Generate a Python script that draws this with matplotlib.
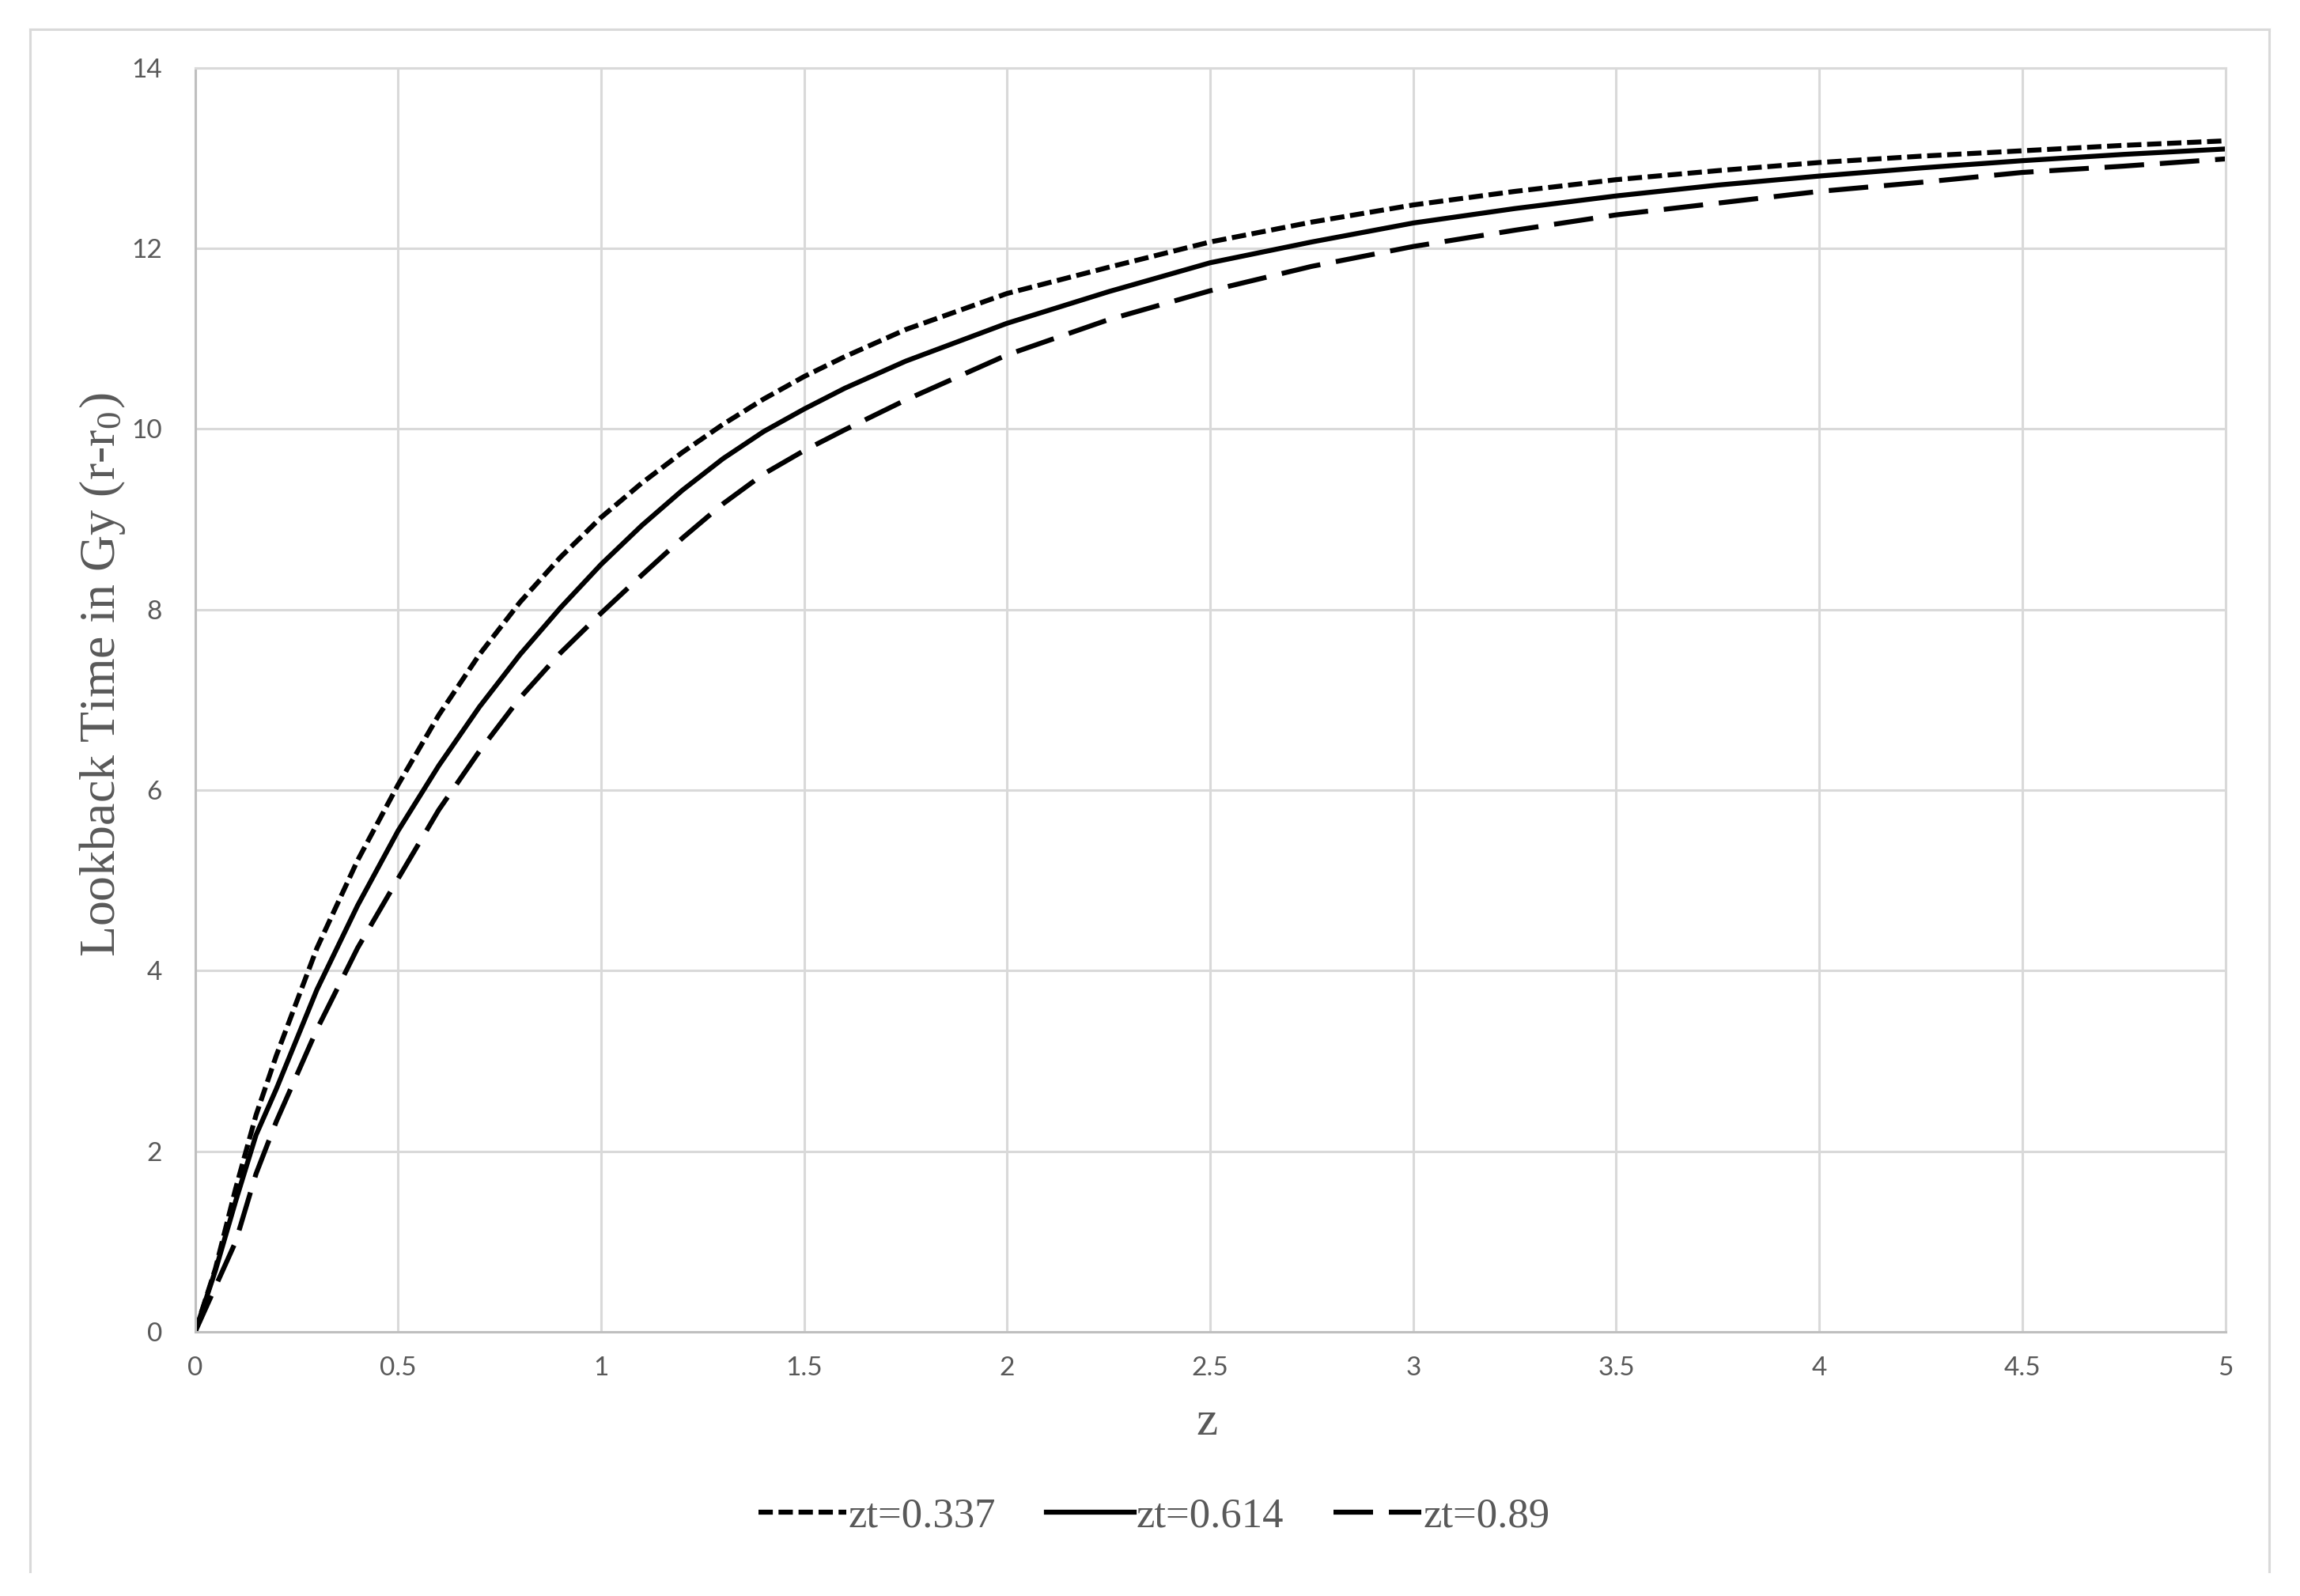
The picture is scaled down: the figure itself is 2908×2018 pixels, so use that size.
import matplotlib
matplotlib.use('Agg')
import matplotlib.pyplot as plt
from matplotlib.lines import Line2D

# redshift grid
z = [0, 0.05, 0.1, 0.15, 0.2, 0.3, 0.4, 0.5, 0.6, 0.7, 0.8, 0.9, 1.0,
     1.1, 1.2, 1.3, 1.4, 1.5, 1.6, 1.75, 2.0, 2.25, 2.5, 2.75, 3.0,
     3.25, 3.5, 3.75, 4.0, 4.25, 4.5, 4.75, 5.0]

# lookback time in Gy for each zt
t_0337 = [0, 0.7, 1.59, 2.4, 3.06, 4.25, 5.22, 6.06, 6.83, 7.5, 8.08, 8.58, 9.02,
          9.4, 9.74, 10.05, 10.33, 10.58, 10.8, 11.1, 11.5, 11.79, 12.07, 12.29, 12.48,
          12.63, 12.76, 12.86, 12.95, 13.02, 13.08, 13.14, 13.19]
t_0614 = [0, 0.68, 1.45, 2.18, 2.69, 3.79, 4.72, 5.55, 6.27, 6.92, 7.5, 8.02, 8.5,
          8.93, 9.32, 9.67, 9.97, 10.22, 10.45, 10.75, 11.17, 11.52, 11.84, 12.07, 12.28,
          12.44, 12.58, 12.7, 12.8, 12.89, 12.97, 13.04, 13.1]
t_089 = [0, 0.5, 1.0, 1.75, 2.33, 3.35, 4.25, 5.02, 5.78, 6.43, 7.02, 7.52, 7.96,
         8.38, 8.79, 9.17, 9.5, 9.76, 9.99, 10.32, 10.82, 11.21, 11.53, 11.8, 12.02,
         12.2, 12.37, 12.5, 12.63, 12.73, 12.84, 12.91, 12.99]

labels = ['zt=0.337', 'zt=0.614', 'zt=0.89']
xticks = [0, 0.5, 1, 1.5, 2, 2.5, 3, 3.5, 4, 4.5, 5]
xticklabels = ['0', '0.5', '1', '1.5', '2', '2.5', '3', '3.5', '4', '4.5', '5']
yticks = [0, 2, 4, 6, 8, 10, 12, 14]

plt.rcParams['mathtext.fontset'] = 'stix'
grid_c = '#d9d9d9'
tick_c = '#595959'
lw = 4.5

fig = plt.figure(figsize=(29.08, 20.18), dpi=100)
ax = fig.add_axes([246.7 / 2908, 1 - 1684 / 2018,
                   (2813.5 - 246.7) / 2908, (1684 - 85.6) / 2018])

ax.plot(z, t_0337, color='black', lw=lw, dashes=(2.9, 1.15), label=labels[0])
ax.plot(z, t_0614, color='black', lw=lw, label=labels[1])
ax.plot(z, t_089, color='black', lw=lw, dashes=(8, 3.2), label=labels[2])

ax.set_xlim(0, 5)
ax.set_ylim(0, 14)
ax.set_xticks(xticks)
ax.set_xticklabels(xticklabels)
ax.set_yticks(yticks)
ax.grid(True, color=grid_c, lw=2.2)
ax.set_axisbelow(True)
for s in ax.spines.values():
    s.set_color(grid_c)
    s.set_linewidth(2.2)
ax.spines['left'].set_color('#bfbfbf')
ax.spines['bottom'].set_color('#bfbfbf')
ax.tick_params(length=0, labelsize=24, labelcolor=tick_c, pad=22)
for t in ax.get_xticklabels() + ax.get_yticklabels():
    t.set_family('Lato')
ax.tick_params(axis='y', pad=30)

fig.text(130 / 2908, 1 - 853 / 2018, r'Lookback Time in Gy (r-r$_\mathregular{0}$)',
         rotation=90, ha='center', va='center', fontsize=46,
         family='Liberation Serif', color=tick_c)
fig.text(1526 / 2908, 1 - 1799 / 2018, 'z', ha='center', va='center',
         fontsize=44, family='Liberation Serif', color=tick_c)

handles = [Line2D([], [], color='black', lw=lw, dashes=(2.9, 1.15)),
           Line2D([], [], color='black', lw=lw),
           Line2D([], [], color='black', lw=lw, dashes=(8, 3.2))]
leg = fig.legend(handles, labels, loc='center', ncol=3,
                 bbox_to_anchor=(787 / 1568, 1 - 1034 / 1088), frameon=False,
                 prop={'family': 'Liberation Serif', 'size': 38},
                 handlelength=2.1, handletextpad=0.05, columnspacing=1.2)
for t in leg.get_texts():
    t.set_color(tick_c)

# outer chart border (left, top, right)
for xs, ys in [([38, 38], [37, 1987]), ([38, 2869], [37, 37]), ([2869, 2869], [37, 1987])]:
    fig.add_artist(Line2D([x / 2908 for x in xs], [1 - y / 2018 for y in ys],
                          color=grid_c, lw=2.2))

fig.savefig('out.png', dpi=100, facecolor='white')
